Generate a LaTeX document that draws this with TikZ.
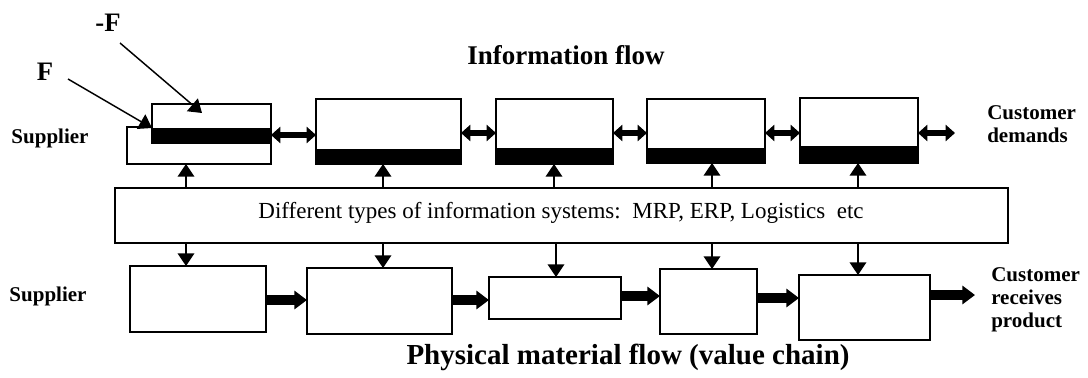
\documentclass[tikz,border=0pt]{standalone}
\usepackage{fontspec}
\setmainfont{Liberation Serif}
\usetikzlibrary{arrows.meta}

% a plain framed box given by its two corners (x1,y1) and (x2,y2)
\newcommand\flowbox[6][]{%
  \node[box,#1,minimum width={(#5-#3)*0.75pt},minimum height={(#6-#4)*0.75pt}]
    (#2) at ({(#3+#5)/2},{(#4+#6)/2}) {};}

\begin{document}
\begin{tikzpicture}[x=0.75pt,y=-0.75pt,
  box/.style={draw,line width=1.1pt,fill=white,inner sep=0pt,outer sep=0pt},
  conn/.style={line width=1.1pt,-{Triangle[length=9.5pt,width=12.5pt]}},
  twoway/.style={line width=4.2pt,{Triangle[length=7pt,width=12pt]}-{Triangle[length=7pt,width=12pt]}},
  goods/.style={line width=7.5pt,-{Triangle[length=9.5pt,width=13.5pt]}},
  title/.style={font=\fontsize{20.25}{24}\selectfont\bfseries,inner sep=0pt},
  side/.style={font=\fontsize{15.75}{17.25}\selectfont\bfseries,inner sep=0pt,align=left},
  force/.style={font=\fontsize{20}{22}\selectfont\bfseries,inner sep=0pt},
  bar/.style={fill=black}]
\useasboundingbox (0,0) rectangle (1088,378);

% titles
\node[title] (tinfo) at (566,55) {Information flow};
\node[title,font=\fontsize{21.75}{24}\selectfont\bfseries] (tphys) at (628,357)
  {Physical material flow (value chain)};

% information flow row
\flowbox{B1}{127}{127}{271}{164}
\flowbox{B1t}{152}{104}{271}{143}
\fill[bar] (B1t.south west) rectangle (B1t.east |- 0,128);
\flowbox{B2}{316}{99}{461}{164}
\fill[bar] (B2.south west) rectangle (B2.east |- 0,149);
\flowbox{B3}{496}{99}{613}{164}
\fill[bar] (B3.south west) rectangle (B3.east |- 0,148);
\flowbox{B4}{647}{99}{765}{163}
\fill[bar] (B4.south west) rectangle (B4.east |- 0,148);
\flowbox{B5}{800}{98}{918}{163}
\fill[bar] (B5.south west) rectangle (B5.east |- 0,146);

\draw[twoway] (B1.east |- 0,135) -- (B2.west |- 0,135);
\draw[twoway] (B2.east |- 0,133) -- (B3.west |- 0,133);
\draw[twoway] (B3.east |- 0,133) -- (B4.west |- 0,133);
\draw[twoway] (B4.east |- 0,133) -- (B5.west |- 0,133);
\coordinate (dmd) at (955,133);
\draw[twoway] (B5.east |- 0,133) -- (dmd);

% information systems
\flowbox{IS}{115}{188}{1008}{243}
\node[font=\fontsize{17.25}{20}\selectfont,inner sep=0pt] (istext) at (561,213)
  {Different types of information systems:\ \ MRP, ERP, Logistics\ \ etc};

\draw[conn] (186,0 |- IS.north) -- (186,0 |- B1.south);
\draw[conn] (383,0 |- IS.north) -- (383,0 |- B2.south);
\draw[conn] (554,0 |- IS.north) -- (554,0 |- B3.south);
\draw[conn] (712,0 |- IS.north) -- (712,0 |- B4.south);
\draw[conn] (858,0 |- IS.north) -- (858,0 |- B5.south);

% physical material flow row
\flowbox{L1}{130}{266}{266}{332}
\flowbox{L2}{307}{268}{452}{334}
\flowbox{L3}{489}{277}{621}{319}
\flowbox{L4}{660}{269}{757}{334}
\flowbox{L5}{799}{275}{930}{340}

\draw[conn] (186,0 |- IS.south) -- (186,0 |- L1.north);
\draw[conn] (383,0 |- IS.south) -- (383,0 |- L2.north);
\draw[conn] (556,0 |- IS.south) -- (556,0 |- L3.north);
\draw[conn] (712,0 |- IS.south) -- (712,0 |- L4.north);
\draw[conn] (858,0 |- IS.south) -- (858,0 |- L5.north);

\draw[goods] (L1.east |- 0,300) -- (L2.west |- 0,300);
\draw[goods] (L2.east |- 0,300) -- (L3.west |- 0,300);
\draw[goods] (L3.east |- 0,296) -- (L4.west |- 0,296);
\draw[goods] (L4.east |- 0,298) -- (L5.west |- 0,298);
\coordinate (out) at (975,295);
\draw[goods] (L5.east |- 0,295) -- (out);

% side labels
\node[side] (sup1) at (50,138) {Supplier};
\node[side] (sup2) at (48,296) {Supplier};
\node[side,anchor=west] (cdem) at (987,124) {Customer\\demands};
\node[side,anchor=west] (crec) at (991,300) {Customer\\receives\\product};

% force markers
\node[force] (F) at (45,72) {F};
\node[force] (mF) at (108,23) {-F};
\coordinate (Fs) at (68,79);
\coordinate (mFs) at (120,43);
\coordinate (mFt) at (202,113);
\draw[conn] (Fs) -- (B1t.west |- 0,128);
\draw[conn] (mFs) -- (mFt);
\end{tikzpicture}
\end{document}
